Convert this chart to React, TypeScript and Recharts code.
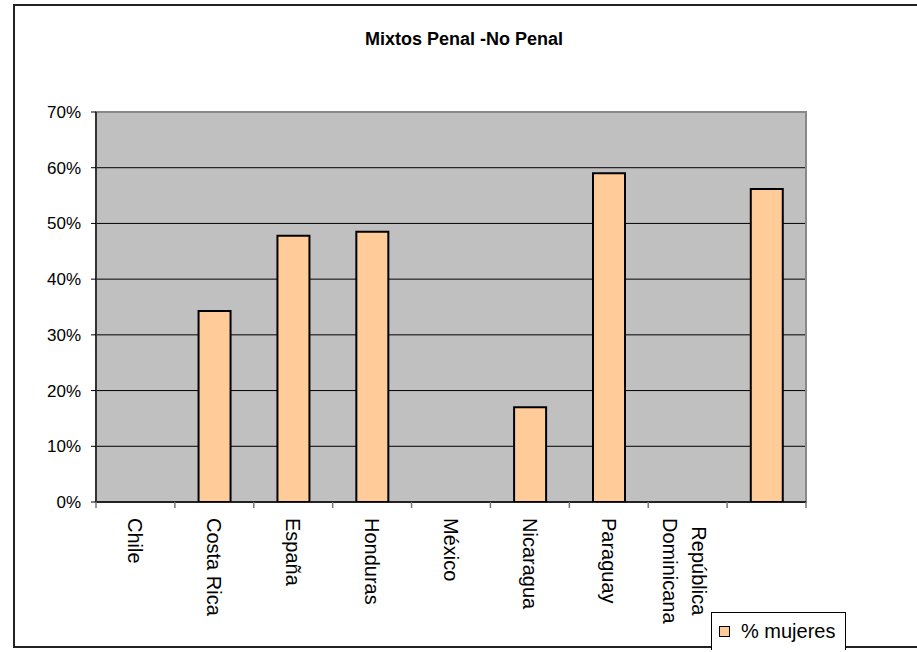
import React from "react";
import { BarChart, Bar, XAxis, YAxis, CartesianGrid, ReferenceArea } from "recharts";

const categories = ["Chile", "Costa Rica", "España", "Honduras", "México", "Nicaragua", "Paraguay", "República Dominicana", ""];
const tickLabels: string[][] = [["Chile"], ["Costa Rica"], ["España"], ["Honduras"], ["México"], ["Nicaragua"], ["Paraguay"], ["República", "Dominicana"], [""]];
const mujeres: (number | null)[] = [null, 0.343, 0.478, 0.485, null, 0.17, 0.59, null, 0.562];
const yTicks = [0, 0.1, 0.2, 0.3, 0.4, 0.5, 0.6, 0.7];
const title = "Mixtos Penal -No Penal";
const seriesName = "% mujeres";

const data = categories.map((c, i) => ({ name: c, value: mujeres[i] }));

const FONT = "'Liberation Sans', Arial, sans-serif";
const X_FONT_SIZE = 20;
const X_TICK_MARGIN = 16;
const EDGE_TICK = 6;

let ctx: CanvasRenderingContext2D | null = null;
function measure(s: string): number {
  if (!ctx) {
    const c = document.createElement("canvas");
    ctx = c.getContext("2d");
  }
  if (!ctx) return s.length * X_FONT_SIZE * 0.53;
  ctx.font = `${X_FONT_SIZE}px ${FONT}`;
  return ctx.measureText(s).width;
}

const XTick = (props: any) => {
  const { x, y, payload } = props;
  const idx = payload.index ?? 0;
  const lines = tickLabels[idx] ?? [String(payload.value)];
  const half = payload.offset ?? 0;
  const axisY = y - X_TICK_MARGIN;
  const lh = 29;
  const maxW = Math.max(...lines.map(measure));
  const cx = lines.length > 1 ? x - 3 : x;
  const isLast = idx === categories.length - 1;
  return (
    <g>
      <line x1={x - half} x2={x - half} y1={axisY} y2={axisY + EDGE_TICK} stroke="#777" strokeWidth={1.5} />
      {isLast && (
        <line x1={x + half} x2={x + half} y1={axisY} y2={axisY + EDGE_TICK} stroke="#777" strokeWidth={1.5} />
      )}
      <g transform={`translate(${cx},${y}) rotate(90)`}>
        {lines.map((ln, i) => (
          <text
            key={i}
            x={maxW / 2}
            y={(i - (lines.length - 1) / 2) * lh}
            textAnchor="middle"
            dominantBaseline="central"
            fontSize={X_FONT_SIZE}
            fontFamily={FONT}
            fill="#000"
          >
            {ln}
          </text>
        ))}
      </g>
    </g>
  );
};

export default function App() {
  return (
    <div style={{ position: "absolute", left: 0, top: 0, width: 917, height: 652, background: "#fff", fontFamily: FONT }}>
      <div
        style={{
          position: "absolute",
          left: 13,
          top: 4,
          width: 920,
          height: 644,
          borderTop: "2px solid #222",
          borderLeft: "2px solid #222",
          borderBottom: "2px solid #222",
          boxSizing: "border-box",
        }}
      />
      <div
        style={{
          position: "absolute",
          left: 14,
          width: 900,
          top: 29,
          textAlign: "center",
          fontWeight: "bold",
          fontSize: 18,
          fontFamily: FONT,
          color: "#000",
        }}
      >
        {title}
      </div>
      <div style={{ position: "absolute", left: 0, top: 0 }}>
        <BarChart
          width={917}
          height={652}
          data={data}
          margin={{ top: 112, right: 111, bottom: 0, left: 0 }}
          barCategoryGap="30%"
        >
          <CartesianGrid vertical={false} fill="#C0C0C0" stroke="#000" strokeWidth={1} />
          <XAxis
            dataKey="name"
            height={150}
            axisLine={{ stroke: "#000", strokeWidth: 1.5 }}
            tickLine={false}
            tickSize={0}
            tickMargin={X_TICK_MARGIN}
            interval={0}
            allowDuplicatedCategory
            tick={<XTick />}
          />
          <YAxis
            width={96}
            domain={[0, 0.7]}
            ticks={yTicks}
            allowDataOverflow
            interval={0}
            tickFormatter={(v: number) => `${Math.round(v * 100)}%`}
            axisLine={{ stroke: "#333", strokeWidth: 2 }}
            tickLine={{ stroke: "#000" }}
            tickSize={5}
            tickMargin={10}
            tick={{ fontSize: 17, fill: "#000", fontFamily: FONT }}
          />
          <ReferenceArea y1={0} y2={0.7} fill="none" stroke="#888" strokeWidth={2} ifOverflow="visible" />
          <Bar
            dataKey="value"
            name={seriesName}
            fill="#FFCC99"
            stroke="#000"
            strokeWidth={2}
            isAnimationActive={false}
          />
        </BarChart>
      </div>
      <div
        style={{
          position: "absolute",
          left: 711,
          top: 612,
          width: 135,
          height: 38,
          borderTop: "1px solid #000",
          borderLeft: "1px solid #000",
          borderRight: "1px solid #000",
          boxSizing: "border-box",
          background: "#fff",
          display: "flex",
          alignItems: "center",
        }}
      >
        <div
          style={{
            width: 9,
            height: 9,
            marginLeft: 7,
            marginRight: 11,
            background: "#FFCC99",
            border: "1.5px solid #000",
          }}
        />
        <span style={{ fontSize: 20, fontFamily: FONT, color: "#000" }}>{seriesName}</span>
      </div>
    </div>
  );
}
